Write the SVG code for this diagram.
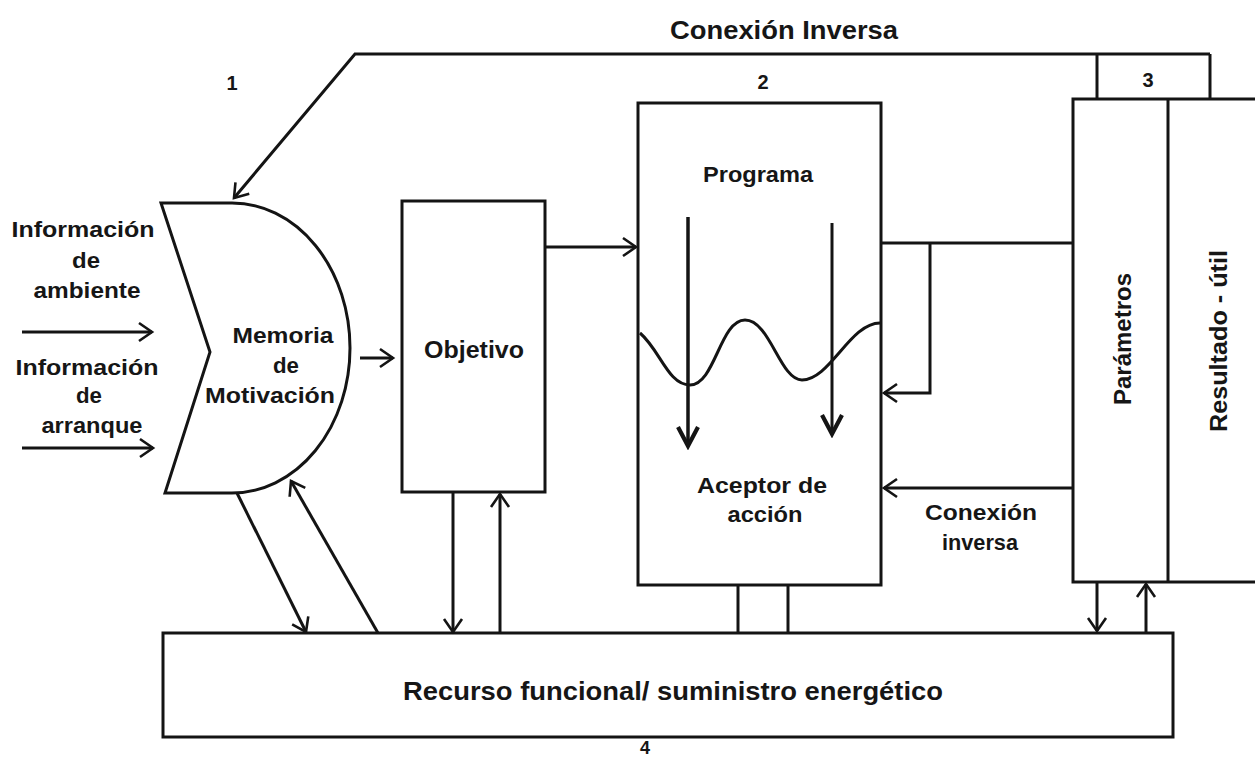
<svg xmlns="http://www.w3.org/2000/svg" width="1255" height="758" viewBox="0 0 1255 758">
<style>
.ln{fill:none;stroke:#141414;stroke-width:3;stroke-linejoin:miter}
.bx{fill:none;stroke:#141414;stroke-width:3}
.t{font-family:"Liberation Sans",Arial,sans-serif;font-weight:bold;fill:#161616;text-anchor:middle}
.s22{font-size:22px}
.s24{font-size:24px}
.s20{font-size:20px}
</style>
<defs>
<marker id="a" viewBox="-16 -12 19 24" refX="0" refY="0" markerWidth="19" markerHeight="24" markerUnits="userSpaceOnUse" orient="auto">
<path d="M-13,-9 L0,0 L-13,9" fill="none" stroke="#141414" stroke-width="2.6"/>
</marker>
<marker id="b" viewBox="-24 -14 28 28" refX="0" refY="0" markerWidth="28" markerHeight="28" markerUnits="userSpaceOnUse" orient="auto">
<path d="M-19,-10 L0,0 L-19,10" fill="none" stroke="#141414" stroke-width="4.2"/>
</marker>
</defs>
<rect width="1255" height="758" fill="#ffffff"/>

<text class="t" x="784" y="39" style="font-size:25px" textLength="228" lengthAdjust="spacingAndGlyphs">Conexión Inversa</text>
<text class="t s20" x="232" y="90">1</text>
<text class="t s20" x="763" y="89">2</text>
<text class="t s20" x="1148" y="87">3</text>
<text class="t" x="645" y="754" style="font-size:18px">4</text>

<g id="inputs">
<text class="t s22" x="83" y="237" textLength="143" lengthAdjust="spacingAndGlyphs">Información</text>
<text class="t s22" x="86" y="268" textLength="28" lengthAdjust="spacingAndGlyphs">de</text>
<text class="t s22" x="87" y="298" textLength="107" lengthAdjust="spacingAndGlyphs">ambiente</text>
<text class="t s22" x="87" y="375" textLength="143" lengthAdjust="spacingAndGlyphs">Información</text>
<text class="t s22" x="89" y="403" textLength="26" lengthAdjust="spacingAndGlyphs">de</text>
<text class="t s22" x="92" y="433" textLength="101" lengthAdjust="spacingAndGlyphs">arranque</text>
</g>

<g id="memoria">
<path class="bx" d="M161,203 L232,203 A118,145 0 0 1 232,493 L165,493 L210,352 Z"/>
<text class="t s22" x="283" y="343" textLength="101" lengthAdjust="spacingAndGlyphs">Memoria</text>
<text class="t s22" x="286" y="373" textLength="26" lengthAdjust="spacingAndGlyphs">de</text>
<text class="t s22" x="270" y="403" textLength="130" lengthAdjust="spacingAndGlyphs">Motivación</text>
</g>

<g id="objetivo">
<rect class="bx" x="402" y="201" width="143" height="291"/>
<text class="t s24" x="474" y="358" textLength="100" lengthAdjust="spacingAndGlyphs">Objetivo</text>
</g>

<g id="programa">
<rect class="bx" x="638" y="103" width="243" height="482"/>
<text class="t s22" x="758" y="182" textLength="110" lengthAdjust="spacingAndGlyphs">Programa</text>
<path class="ln" d="M640,333 C660,350 668,385 690,385 C715,385 720,320 745,320 C770,320 780,380 802,380 C830,380 850,323 880,323"/>
<line x1="688" y1="217" x2="688" y2="446" stroke="#141414" stroke-width="3.5" marker-end="url(#b)"/>
<line x1="832" y1="223" x2="832" y2="434" stroke="#141414" stroke-width="3" marker-end="url(#b)"/>
<text class="t s22" x="762" y="493" textLength="130" lengthAdjust="spacingAndGlyphs">Aceptor de</text>
<text class="t s22" x="765" y="522" textLength="75" lengthAdjust="spacingAndGlyphs">acción</text>
</g>

<g id="resultado">
<rect class="bx" x="1073" y="99" width="200" height="483"/>
<line class="ln" x1="1168" y1="99" x2="1168" y2="582"/>
<line class="ln" x1="1097" y1="54" x2="1097" y2="99"/>
<line class="ln" x1="1210" y1="54" x2="1210" y2="99"/>
<text class="t s24" transform="translate(1131,339) rotate(-90)" textLength="132" lengthAdjust="spacingAndGlyphs">Parámetros</text>
<text class="t s24" transform="translate(1227,341) rotate(-90)" textLength="182" lengthAdjust="spacingAndGlyphs">Resultado - útil</text>
</g>

<g id="recurso">
<rect class="bx" x="163" y="633" width="1010" height="104"/>
<text class="t" x="673" y="700" style="font-size:25px" textLength="540" lengthAdjust="spacingAndGlyphs">Recurso funcional/ suministro energético</text>
</g>

<g id="connectors">
<polyline class="ln" points="1210,54 355,54 234,198" marker-end="url(#a)"/>
<line class="ln" x1="22" y1="332" x2="152" y2="332" marker-end="url(#a)"/>
<line class="ln" x1="22" y1="448" x2="153" y2="448" marker-end="url(#a)"/>
<line class="ln" x1="360" y1="358" x2="393" y2="358" marker-end="url(#a)"/>
<line class="ln" x1="545" y1="247" x2="636" y2="247" marker-end="url(#a)"/>
<line class="ln" x1="882" y1="243" x2="1073" y2="243"/>
<polyline class="ln" points="930,243 930,393 884,393" marker-end="url(#a)"/>
<line class="ln" x1="1073" y1="488" x2="884" y2="488" marker-end="url(#a)"/>
<line class="ln" x1="237" y1="493" x2="306" y2="632" marker-end="url(#a)"/>
<line class="ln" x1="378" y1="633" x2="291" y2="481" marker-end="url(#a)"/>
<line class="ln" x1="453" y1="492" x2="453" y2="632" marker-end="url(#a)"/>
<line class="ln" x1="500" y1="633" x2="500" y2="494" marker-end="url(#a)"/>
<line class="ln" x1="738" y1="585" x2="738" y2="633"/>
<line class="ln" x1="788" y1="585" x2="788" y2="633"/>
<line class="ln" x1="1097" y1="582" x2="1097" y2="631" marker-end="url(#a)"/>
<line class="ln" x1="1146" y1="633" x2="1146" y2="584" marker-end="url(#a)"/>
</g>

<g id="feedback-label">
<text class="t s22" x="981" y="520" textLength="112" lengthAdjust="spacingAndGlyphs">Conexión</text>
<text class="t s22" x="980" y="550" textLength="76" lengthAdjust="spacingAndGlyphs">inversa</text>
</g>
</svg>
